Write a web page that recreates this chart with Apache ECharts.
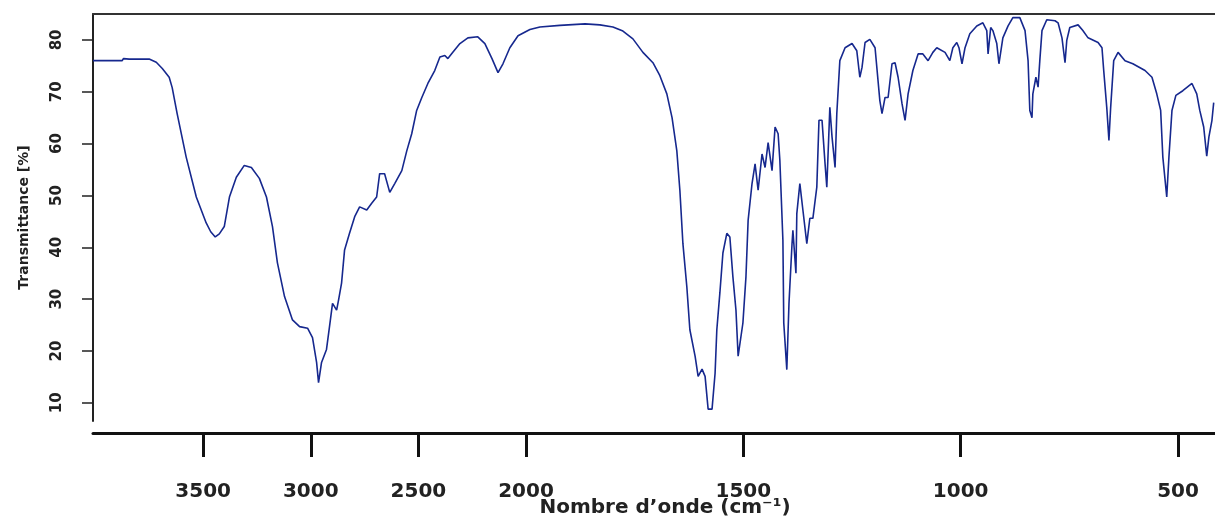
<!DOCTYPE html>
<html>
<head>
<meta charset="utf-8">
<script src="https://cdn.jsdelivr.net/npm/echarts@6/dist/echarts.min.js"></script>
<style>
  html, body { margin: 0; padding: 0; background: #fff; }
  #chart { width: 1215px; height: 518px; }
</style>
</head>
<body>
<div id="chart"></div>
<script>
// wavenumber (cm-1)
const wavenumber = [
  4012, 3877, 3870, 3844, 3751, 3718, 3690, 3658, 3644, 3621, 3579, 3532, 3486, 3465, 3444, 3425,
  3402, 3378, 3346, 3309, 3276, 3239, 3206, 3178, 3155, 3122, 3085, 3052, 3015, 2992, 2973, 2964,
  2950, 2927, 2913, 2899, 2880, 2871, 2857, 2843, 2820, 2796, 2773, 2740, 2717, 2694, 2680, 2657,
  2633, 2610, 2577, 2554, 2531, 2508, 2484, 2456, 2424, 2400, 2377, 2363, 2340, 2307, 2270, 2224,
  2191, 2158, 2130, 2107, 2075, 2037, 1991, 1968, 1922, 1864, 1830, 1800, 1777, 1754, 1731, 1708,
  1692, 1676, 1664, 1653, 1646, 1639, 1630, 1623, 1611, 1604, 1595, 1588, 1581, 1572, 1565, 1561,
  1554, 1547, 1538, 1531, 1524, 1517, 1512, 1508, 1501, 1494, 1489, 1480, 1473, 1466, 1457, 1450,
  1443, 1434, 1427, 1420, 1416, 1409, 1407, 1400, 1395, 1388, 1386, 1379, 1377, 1370, 1363, 1354,
  1347, 1340, 1331, 1326, 1319, 1312, 1308, 1301, 1296, 1289, 1285, 1278, 1266, 1250, 1239, 1232,
  1227, 1220, 1209, 1197, 1186, 1181, 1174, 1167, 1158, 1151, 1144, 1135, 1128, 1121, 1110, 1098,
  1087, 1075, 1064, 1055, 1036, 1025, 1018, 1009, 1004, 997, 990, 979, 963, 949, 940, 937,
  931, 926, 917, 912, 903, 891, 880, 864, 852, 845, 841, 836, 834, 827, 822, 818,
  813, 802, 783, 776, 767, 760, 756, 749, 730, 719, 707, 684, 675, 671, 664, 659,
  655, 648, 638, 622, 604, 576, 560, 549, 540, 535, 526, 521, 514, 505, 489, 468,
  457, 450, 441, 434, 429, 422, 418
];

// transmittance (%)
const transmittance = [
  76.0, 76.0, 76.4, 76.3, 76.3, 75.7, 74.5, 72.8, 70.8, 65.8, 57.4, 49.7, 44.7, 43.0, 42.0, 42.6,
  44.0, 49.7, 53.5, 55.8, 55.4, 53.3, 49.7, 44.0, 37.0, 30.5, 26.0, 24.7, 24.4, 22.6, 17.8, 13.9,
  17.8, 20.3, 24.7, 29.2, 27.9, 29.8, 33.1, 39.5, 42.7, 45.9, 47.8, 47.2, 48.5, 49.7, 54.2, 54.2,
  50.6, 52.3, 54.8, 58.6, 61.9, 66.4, 68.9, 71.6, 74.1, 76.7, 77.0, 76.4, 77.6, 79.3, 80.4, 80.6,
  79.3, 76.4, 73.7, 75.4, 78.5, 80.8, 82.0, 82.5, 82.8, 83.1, 82.9, 82.5, 81.7, 80.2, 77.6, 75.6,
  73.1, 69.6, 65.0, 58.6, 51.0, 40.7, 32.4, 24.1, 19.0, 15.1, 16.5, 15.1, 8.8, 8.8, 15.7, 24.1,
  31.2, 38.9, 42.7, 42.0, 34.3, 27.9, 19.0, 19.0, 25.4, 34.3, 45.2, 52.3, 56.1, 51.0, 58.0, 55.4,
  60.2, 54.8, 63.2, 61.9, 56.8, 41.4, 25.4, 16.4, 29.2, 40.7, 43.3, 35.0, 46.5, 52.3, 47.2, 40.7,
  45.6, 45.6, 51.6, 64.5, 64.5, 56.1, 51.6, 67.0, 61.3, 55.4, 65.8, 76.0, 78.5, 79.3, 77.9, 72.8,
  74.7, 79.5, 80.1, 78.5, 68.3, 65.8, 68.9, 68.9, 75.4, 75.6, 72.8, 67.7, 64.5, 69.6, 74.1, 77.3,
  77.3, 76.0, 77.6, 78.5, 77.6, 76.0, 78.5, 79.5, 78.5, 75.4, 78.5, 81.2, 82.7, 83.3, 81.8, 77.3,
  82.4, 81.8, 79.3, 75.4, 80.4, 82.7, 84.3, 84.3, 81.8, 76.0, 66.4, 65.0, 69.6, 72.8, 70.9, 76.0,
  81.8, 83.9, 83.7, 83.3, 80.4, 75.6, 79.9, 82.4, 82.9, 81.8, 80.4, 79.5, 78.5, 74.1, 67.0, 60.6,
  67.0, 76.0, 77.6, 76.0, 75.4, 74.1, 72.8, 69.6, 66.4, 57.4, 49.7, 57.4, 66.4, 69.3, 70.2, 71.6,
  69.6, 66.4, 63.2, 57.6, 61.3, 64.5, 67.9
];

const xTicks = [3500, 3000, 2500, 2000, 1500, 1000, 500];
const yTicks = [10, 20, 30, 40, 50, 60, 70, 80];

// the axis is compressed about 2x above 2000 cm-1
const SQUEEZE = 2.02;
function toPos(w) {
  return w > 2000 ? 2000 + (w - 2000) / SQUEEZE : w;
}
function fromPos(p) {
  return p > 2000 ? 2000 + (p - 2000) * SQUEEZE : p;
}

const chart = echarts.init(document.getElementById('chart'));
const font = 'DejaVu Sans';

const option = {
  animation: false,
  grid: { left: 93, right: 0, top: 14, bottom: 97, outerBoundsMode: 'none' },
  xAxis: [
    {
      type: 'value',
      inverse: true,
      min: toPos(415),
      max: toPos(4012),
      offset: 12,
      position: 'bottom',
      name: 'Nombre d\u2019onde (cm\u207B\u00B9)',
      nameLocation: 'middle',
      nameGap: 65,
      nameMoveOverlap: false,
      nameTextStyle: { fontFamily: font, fontWeight: 'bold', fontSize: 20, color: '#222', padding: [0, 0, 0, 22] },
      axisLine: { show: true, lineStyle: { color: '#111', width: 3 } },
      axisTick: { show: true, length: 24, customValues: xTicks.map(toPos), lineStyle: { color: '#111', width: 3 } },
      axisLabel: {
        customValues: xTicks.map(toPos),
        margin: 49,
        fontFamily: font, fontWeight: 'bold', fontSize: 20, color: '#222',
        formatter: v => String(Math.round(fromPos(v) / 10) * 10)
      },
      splitLine: { show: false }
    },
    {
      type: 'value',
      inverse: true,
      min: toPos(415),
      max: toPos(4012),
      position: 'top',
      axisLine: { show: true, lineStyle: { color: '#333', width: 2 } },
      axisTick: { show: false },
      axisLabel: { show: false },
      splitLine: { show: false }
    }
  ],
  yAxis: {
    type: 'value',
    min: 6.5,
    max: 85,
    name: 'Transmittance [%]',
    nameLocation: 'middle',
    nameGap: 62,
    nameMoveOverlap: false,
    nameTextStyle: { fontFamily: font, fontWeight: 'bold', fontSize: 14, color: '#222' },
    axisLine: { show: true, lineStyle: { color: '#222', width: 2 } },
    axisTick: { show: true, length: 11, customValues: yTicks, lineStyle: { color: '#222', width: 1.5 } },
    axisLabel: {
      customValues: yTicks,
      rotate: 90,
      margin: 28,
      fontFamily: font, fontWeight: 'bold', fontSize: 15, color: '#222'
    },
    splitLine: { show: false }
  },
  series: [
    {
      type: 'line',
      xAxisIndex: 0,
      showSymbol: false,
      symbol: 'none',
      lineStyle: { color: '#16288e', width: 1.6 },
      data: wavenumber.map((w, i) => [toPos(w), transmittance[i]])
    }
  ]
};

chart.setOption(option);
window.addEventListener('resize', () => chart.resize());
</script>
</body>
</html>
